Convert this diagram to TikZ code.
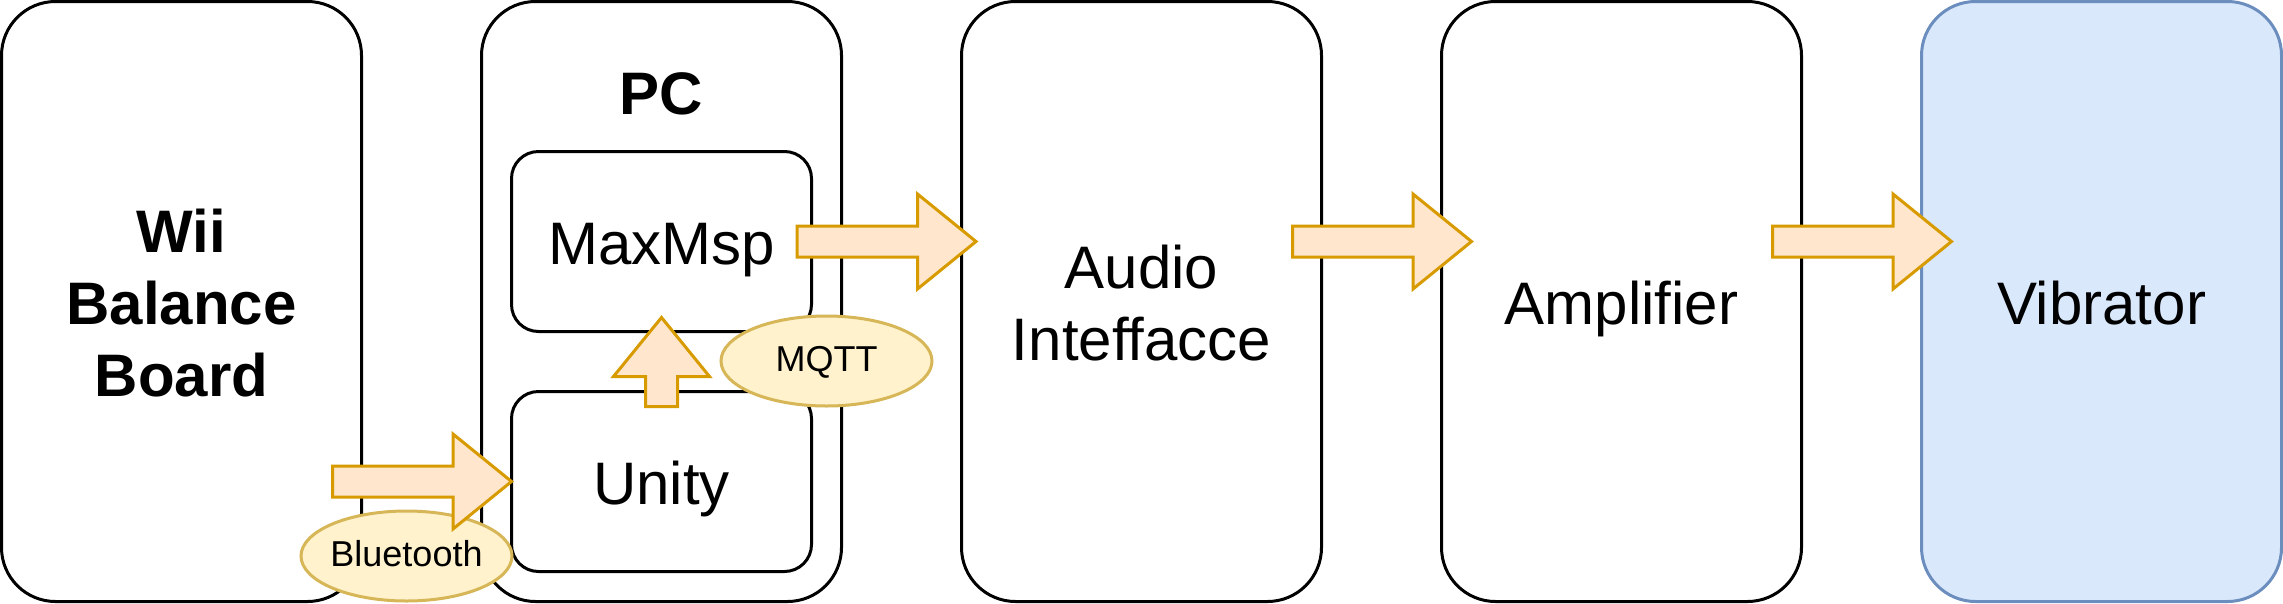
\documentclass[tikz,border=0pt]{standalone}
\usepackage{fontspec}
\setmainfont{Liberation Sans}
\usetikzlibrary{shapes.geometric,calc}
\definecolor{arrfill}{HTML}{FFE6CC}
\definecolor{arrdraw}{HTML}{D79B00}
\definecolor{ellfill}{HTML}{FFF2CC}
\definecolor{elldraw}{HTML}{D6B656}
\definecolor{vibfill}{HTML}{DAE8FC}
\definecolor{vibdraw}{HTML}{6C8EBF}
\newcommand\bigstrut{\vrule height 58.5pt depth 13.5pt width 0pt}
\newcommand\smallstrut{\vrule height 32pt depth 10.6pt width 0pt}
\begin{document}
\begin{tikzpicture}[x=1pt,y=-1pt,
  box/.style={draw=black, line width=3pt, fill=white, rounded corners=54pt,
    minimum width=360pt, minimum height=600pt, inner sep=0pt, outer sep=0pt,
    align=center, font=\fontsize{60}{72}\selectfont},
  inbox/.style={box, rounded corners=27pt, minimum width=300pt, minimum height=180pt},
  ell/.style={ellipse, draw=elldraw, fill=ellfill, line width=3pt,
    minimum width=211pt, minimum height=90pt, inner sep=0pt, outer sep=0pt,
    font=\fontsize{36}{43}\selectfont},
  barr/.style={draw=arrdraw, fill=arrfill, line width=3pt, line join=miter},
  pics/blockarrow/.style n args={4}{code={
    \draw[barr] (0,-#4) -- (#1-#2,-#4) -- (#1-#2,-#3) -- (#1,0)
      -- (#1-#2,#3) -- (#1-#2,#4) -- (0,#4) -- cycle;}}
]
\useasboundingbox (0,0) rectangle (2283,603);
% main blocks
\node[box, font=\fontsize{60}{72}\selectfont\bfseries] (wii) at (181.5,301.5)
  {Wii\bigstrut\\Balance\bigstrut\\Board\bigstrut};
\node[box] (pc) at (661.5,301.5) {};
\node[font=\fontsize{60}{72}\selectfont\bfseries, anchor=base, inner sep=0pt] (pclabel)
  at (661.5,114) {PC};
\node[inbox] (maxmsp) at (661.5,241.5) {MaxMsp\bigstrut};
\node[inbox] (unity) at (661.5,481.5) {Unity\bigstrut};
\node[box] (audio) at (1141.5,301.5) {Audio\bigstrut\\Inteffacce\bigstrut};
\node[box] (amp) at (1621.5,301.5) {Amplifier\bigstrut};
\node[box, draw=vibdraw, fill=vibfill] (vib) at (2101.5,301.5) {Vibrator\bigstrut};
% labels
\node[ell] (bt) at (406.5,556) {\makebox[0pt]{Bluetooth}\smallstrut};
\node[ell] (mqtt) at (826.5,361) {\makebox[0pt]{MQTT}\smallstrut};
% block arrows
\pic at ($(unity.west)+(-179,0)$) {blockarrow={179}{58.5}{47.5}{15.5}};
\pic at ($(maxmsp.east)+(-14.5,0)$) {blockarrow={179}{58.5}{47.5}{15.5}};
\pic at ($(audio.east)+(-29,-60)$) {blockarrow={179}{58.5}{47.5}{15.5}};
\pic at ($(amp.east)+(-29,-60)$) {blockarrow={179}{58.5}{47.5}{15.5}};
\pic[rotate=90] at ($(unity.north)+(0,15)$) {blockarrow={89}{59}{48}{16}};
\end{tikzpicture}
\end{document}
